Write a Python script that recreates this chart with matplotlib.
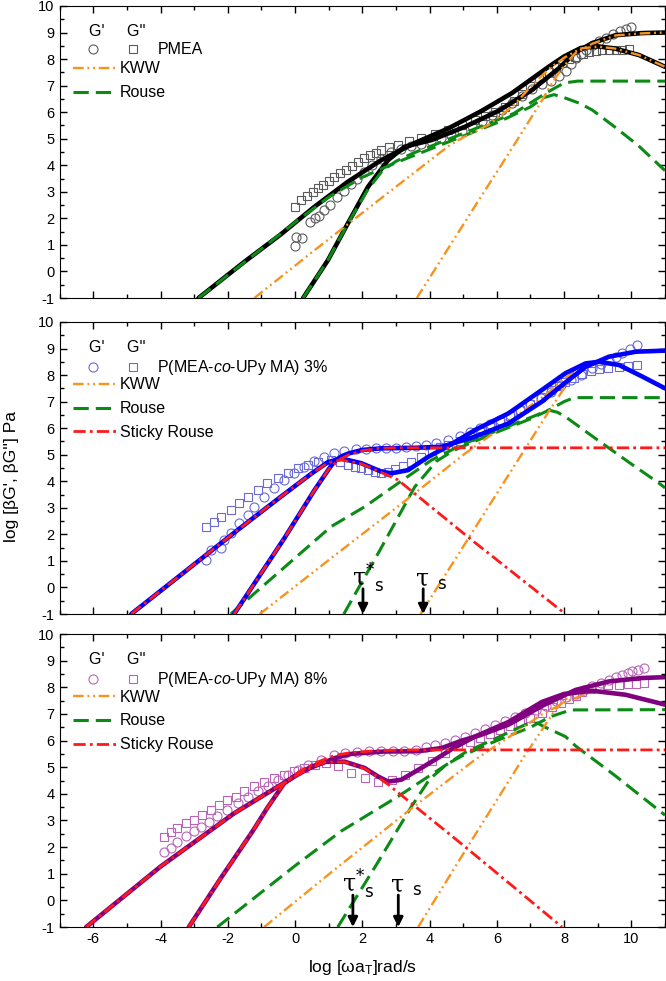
import matplotlib
matplotlib.use('Agg')
import matplotlib.pyplot as plt
from matplotlib.lines import Line2D
from matplotlib.legend_handler import HandlerTuple
from matplotlib.ticker import MultipleLocator

plt.rcParams['font.family'] = ['Liberation Sans', 'DejaVu Sans']
plt.rcParams['axes.unicode_minus'] = False
plt.rcParams['mathtext.fontset'] = 'custom'
plt.rcParams['mathtext.rm'] = 'Liberation Sans'
plt.rcParams['mathtext.it'] = 'Liberation Sans:italic'

# ---------------- panel 1 : PMEA ----------------
p1_gp_x = [0.00, 0.02, 0.22, 0.45, 0.58, 0.70, 0.87, 1.05, 1.25, 1.45, 1.65, 1.85, 2.05, 2.30, 2.55,
           2.85, 3.15, 3.45, 3.75, 4.05, 4.35, 4.65, 4.95, 5.25, 5.55, 5.85, 6.15, 6.45, 6.75, 7.05,
           7.35, 7.60, 7.85, 8.05, 8.20, 8.35, 8.50, 8.65, 8.85, 9.05, 9.25, 9.45, 9.65, 9.85, 10.00]
p1_gp_y = [0.95, 1.30, 1.25, 1.85, 2.00, 2.10, 2.30, 2.50, 2.80, 3.05, 3.30, 3.50, 3.75, 4.00, 4.25,
           4.50, 4.62, 4.72, 4.82, 4.92, 5.02, 5.15, 5.30, 5.48, 5.68, 5.88, 6.08, 6.35, 6.60, 6.88,
           7.05, 7.18, 7.35, 7.55, 7.80, 8.05, 8.20, 8.35, 8.53, 8.67, 8.80, 8.93, 9.05, 9.15, 9.22]
p1_gpp_x = [0.00, 0.18, 0.35, 0.53, 0.68, 0.83, 1.00, 1.17, 1.35, 1.52, 1.70, 1.87, 2.05, 2.22, 2.40,
            2.57, 2.80, 3.07, 3.40, 3.76, 4.15, 4.56, 4.95, 5.35, 5.65, 5.95, 6.25, 6.50, 6.75, 7.00,
            7.25, 7.54, 7.75, 7.94, 8.15, 8.33, 8.55, 8.74, 8.95, 9.13, 9.33, 9.53, 9.73, 9.93]
p1_gpp_y = [2.44, 2.69, 2.85, 3.00, 3.13, 3.26, 3.42, 3.57, 3.70, 3.82, 3.98, 4.13, 4.27, 4.39, 4.48,
            4.57, 4.67, 4.76, 4.90, 5.03, 5.18, 5.33, 5.50, 5.70, 5.85, 6.02, 6.20, 6.42, 6.68, 6.98,
            7.28, 7.52, 7.70, 7.85, 8.00, 8.09, 8.20, 8.28, 8.32, 8.34, 8.34, 8.34, 8.35, 8.37]
p1_fit_gp_x = [0.24, 0.98, 1.57, 2.17, 2.77, 3.26, 4.06, 5.05, 6.05, 7.04, 7.84, 8.33, 8.84, 9.53, 10.33, 11.0]
p1_fit_gp_y = [-1.0, 0.43, 1.81, 3.19, 4.20, 4.70, 4.95, 5.45, 6.05, 6.83, 7.65, 8.25, 8.60, 8.90, 8.98, 9.00]
p1_fit_gpp_x = [-2.87, -1.5, -0.42, 0.58, 1.57, 2.57, 3.56, 4.56, 5.55, 6.45, 7.54, 8.0, 8.5, 9.0, 9.5, 10.23, 11.0]
p1_fit_gpp_y = [-1.0, 0.37, 1.40, 2.44, 3.38, 4.20, 4.84, 5.39, 6.05, 6.72, 7.71, 8.10, 8.42, 8.48, 8.40, 8.15, 7.71]
p1_rouse_gp_x = [0.24, 0.98, 1.57, 2.17, 2.6, 3.0, 3.5, 4.5, 5.5, 6.5, 7.0, 7.5, 8.0, 8.4, 11.0]
p1_rouse_gp_y = [-1.0, 0.43, 1.81, 3.10, 3.80, 4.15, 4.45, 4.95, 5.45, 5.95, 6.35, 6.75, 7.10, 7.17, 7.17]
p1_rouse_gpp_x = [-2.87, -1.0, 0.0, 1.0, 2.0, 3.0, 4.0, 5.0, 6.0, 7.0, 7.4, 7.7, 8.0, 8.45, 8.84, 9.5, 10.2, 11.0]
p1_rouse_gpp_y = [-1.0, 0.85, 1.85, 2.80, 3.55, 4.10, 4.60, 5.10, 5.60, 6.20, 6.55, 6.66, 6.55, 6.34, 6.08, 5.45, 4.75, 3.80]
p1_kww_gp_x = [3.62, 4.36, 5.5, 6.45, 7.34, 7.64, 8.0, 8.33, 8.84, 9.53, 10.33, 11.0]
p1_kww_gp_y = [-1.0, 0.48, 2.76, 4.64, 6.44, 7.10, 7.75, 8.22, 8.58, 8.89, 8.97, 9.00]
p1_kww_gpp_x = [-1.21, 0.58, 2.5, 4.56, 5.0, 5.75, 6.5, 7.0, 7.54, 8.0, 8.5, 9.0, 9.5, 10.23, 11.0]
p1_kww_gpp_y = [-1.0, 0.80, 2.70, 4.72, 5.05, 5.52, 6.25, 6.95, 7.62, 8.05, 8.40, 8.47, 8.40, 8.15, 7.71]

# ---------------- panel 2 : 3 % ----------------
p2_gp_x = [-2.66, -2.51, -2.21, -2.12, -1.91, -1.66, -1.41, -1.21, -0.91, -0.62, -0.32, -0.02, 0.28, 0.55,
           0.85, 1.17, 1.47, 1.8, 2.1, 2.4, 2.7, 3.0, 3.3, 3.6, 3.9, 4.2, 4.56, 4.9, 5.2, 5.5, 5.8, 6.1,
           6.4, 6.7, 7.0, 7.3, 7.6, 7.9, 8.2, 8.5, 8.84, 9.1, 9.33, 9.55, 9.73, 9.95, 10.18]
p2_gp_y = [1.03, 1.41, 1.47, 1.79, 2.04, 2.42, 2.73, 3.04, 3.42, 3.73, 4.05, 4.30, 4.55, 4.75,
           4.92, 5.05, 5.15, 5.20, 5.22, 5.24, 5.25, 5.27, 5.30, 5.33, 5.38, 5.45, 5.55, 5.70, 5.85, 6.00, 6.15, 6.30,
           6.48, 6.68, 6.90, 7.12, 7.38, 7.62, 7.82, 8.02, 8.25, 8.42, 8.56, 8.68, 8.82, 8.98, 9.13]
p2_gpp_x = [-2.66, -2.41, -2.21, -1.91, -1.66, -1.41, -1.11, -0.82, -0.52, -0.22, 0.08, 0.38, 0.68, 1.07,
            1.35, 1.57, 1.77, 1.97, 2.17, 2.37, 2.57, 2.77, 2.96, 3.2, 3.46, 3.76, 4.06, 4.3, 4.56, 4.9,
            5.2, 5.5, 5.8, 6.1, 6.4, 6.7, 7.0, 7.3, 7.6, 7.85, 8.04, 8.3, 8.54, 8.8, 9.04, 9.3, 9.63, 9.9, 10.18]
p2_gpp_y = [2.29, 2.48, 2.67, 2.92, 3.17, 3.42, 3.67, 3.92, 4.11, 4.30, 4.49, 4.61, 4.74, 4.80,
            4.72, 4.61, 4.55, 4.49, 4.42, 4.36, 4.32, 4.33, 4.45, 4.58, 4.72, 4.92, 5.15, 5.28, 5.38, 5.52,
            5.68, 5.86, 6.04, 6.22, 6.45, 6.68, 6.92, 7.16, 7.42, 7.60, 7.72, 7.90, 8.05, 8.15, 8.22, 8.27, 8.32, 8.35, 8.38]
p2_fit_gp_x = [-1.81, -0.32, 0.58, 1.0, 1.17, 1.4, 1.6, 2.0, 2.57, 3.56, 4.36, 5.35, 6.35, 7.34, 8.13, 8.64, 9.33, 10.13, 11.0]
p2_fit_gp_y = [-1.0, 1.85, 3.67, 4.45, 4.75, 4.95, 5.05, 5.18, 5.24, 5.26, 5.30, 5.68, 6.18, 7.00, 7.81, 8.31, 8.69, 8.88, 8.92]
p2_fit_gpp_x = [-4.87, -1.71, -0.42, 0.50, 0.98, 1.37, 1.97, 2.57, 2.87, 3.36, 3.96, 4.56, 5.35, 6.35,
                7.34, 8.04, 8.64, 9.04, 9.63, 10.33, 11.0]
p2_fit_gpp_y = [-1.0, 2.16, 3.42, 4.30, 4.72, 4.86, 4.68, 4.36, 4.30, 4.42, 4.92, 5.33, 5.93, 6.56,
                7.44, 8.07, 8.44, 8.50, 8.38, 7.94, 7.50]
p2_sticky_gp_x = [-1.81, -0.32, 0.58, 1.0, 1.3, 1.6, 2.0, 2.5, 3.0, 11.0]
p2_sticky_gp_y = [-1.0, 1.85, 3.67, 4.45, 4.80, 5.00, 5.15, 5.24, 5.26, 5.26]
p2_sticky_gpp_x = [-4.87, -1.71, -0.42, 0.50, 0.98, 1.37, 1.97, 2.57, 3.06, 5.25, 8.04]
p2_sticky_gpp_y = [-1.0, 2.16, 3.42, 4.30, 4.70, 4.80, 4.66, 4.33, 4.05, 1.79, -1.0]
p2_rouse_gp_x = [1.45, 2.5, 3.56, 4.2, 4.7, 5.05, 6.0, 7.0, 7.5, 8.0, 8.3, 11.0]
p2_rouse_gp_y = [-1.0, 1.35, 3.79, 4.75, 5.15, 5.35, 5.85, 6.35, 6.65, 7.00, 7.15, 7.15]
p2_rouse_gpp_x = [-1.91, 1.07, 2.07, 3.06, 4.06, 5.05, 6.0, 7.0, 7.54, 7.8, 8.04, 9.0, 10.0, 10.83, 11.0]
p2_rouse_gpp_y = [-1.0, 2.29, 3.04, 3.92, 4.80, 5.43, 5.90, 6.40, 6.68, 6.60, 6.43, 5.55, 4.65, 3.92, 3.75]
p2_kww_gp_x = [3.73, 5.0, 6.0, 7.0, 7.54, 8.13, 8.64, 9.33, 10.13, 11.0]
p2_kww_gp_y = [-1.0, 1.54, 3.54, 5.54, 6.62, 7.75, 8.28, 8.67, 8.87, 8.92]
p2_kww_gpp_x = [-1.05, 1.07, 3.06, 5.06, 6.0, 7.0, 7.5, 8.04, 8.64, 9.04, 9.63, 10.33, 11.0]
p2_kww_gpp_y = [-1.0, 1.10, 3.05, 5.05, 5.90, 6.85, 7.30, 7.90, 8.35, 8.45, 8.36, 7.94, 7.50]

# ---------------- panel 3 : 8 % ----------------
p3_gp_x = [-3.90, -3.70, -3.50, -3.25, -3.00, -2.81, -2.56, -2.31, -2.01, -1.71, -1.41, -1.11, -0.81, -0.51,
           -0.22, 0.08, 0.38, 0.78, 1.17, 1.5, 1.85, 2.2, 2.55, 2.9, 3.25, 3.6, 3.9, 4.16, 4.45, 4.75,
           5.05, 5.35, 5.65, 5.95, 6.25, 6.55, 6.85, 7.15, 7.45, 7.75, 8.05, 8.34, 8.6, 8.84, 9.1, 9.33,
           9.55, 9.73, 9.9, 10.03, 10.2, 10.38]
p3_gp_y = [1.83, 1.97, 2.21, 2.40, 2.59, 2.77, 2.96, 3.15, 3.40, 3.65, 3.90, 4.09, 4.28, 4.53,
           4.71, 4.90, 5.09, 5.28, 5.45, 5.55, 5.58, 5.59, 5.60, 5.60, 5.61, 5.65, 5.75, 5.84, 5.92, 6.03,
           6.14, 6.28, 6.42, 6.58, 6.72, 6.88, 7.02, 7.15, 7.30, 7.48, 7.62, 7.75, 7.88, 8.03, 8.16, 8.28,
           8.38, 8.47, 8.54, 8.60, 8.66, 8.73]
p3_gpp_x = [-3.90, -3.70, -3.50, -3.25, -3.00, -2.76, -2.51, -2.26, -2.01, -1.76, -1.51, -1.21, -0.91, -0.62,
            -0.32, -0.02, 0.28, 0.58, 0.93, 1.27, 1.67, 2.07, 2.47, 2.87, 3.26, 3.66, 4.06, 4.46, 4.86, 5.2,
            5.5, 5.8, 6.1, 6.4, 6.7, 7.0, 7.34, 7.65, 7.9, 8.14, 8.34, 8.54, 8.8, 9.04, 9.3, 9.63, 9.9, 10.15, 10.38]
p3_gpp_y = [2.39, 2.55, 2.71, 2.90, 3.02, 3.21, 3.40, 3.59, 3.77, 3.90, 4.09, 4.28, 4.46, 4.59,
            4.71, 4.84, 4.96, 5.09, 5.15, 5.03, 4.80, 4.59, 4.46, 4.53, 4.72, 4.97, 5.22, 5.53, 5.78, 5.95,
            6.10, 6.25, 6.40, 6.55, 6.70, 6.86, 7.05, 7.25, 7.40, 7.55, 7.68, 7.82, 7.95, 8.02, 8.08, 8.10, 8.12, 8.14, 8.16]
p3_fit_gp_x = [-3.16, -2.2, -1.26, -0.81, -0.32, 0.2, 0.68, 1.2, 1.67, 2.66, 3.66, 4.36, 4.96, 5.5, 6.35, 7.34,
               8.34, 9.33, 10.33, 11.0]
p3_fit_gp_y = [-1.0, 0.85, 2.60, 3.50, 4.40, 4.85, 5.09, 5.35, 5.50, 5.59, 5.60, 5.72, 6.00, 6.20, 6.60, 7.30,
               7.90, 8.22, 8.35, 8.38]
p3_fit_gpp_x = [-6.21, -4.0, -1.81, -0.02, 0.5, 0.87, 1.47, 2.07, 2.47, 2.77, 3.16, 3.66, 4.16, 4.66, 5.35,
                6.35, 7.34, 8.0, 8.84, 9.83, 11.0]
p3_fit_gpp_y = [-1.0, 1.27, 3.27, 4.65, 5.02, 5.20, 5.21, 4.97, 4.65, 4.46, 4.53, 4.90, 5.28, 5.68, 6.15,
                6.70, 7.45, 7.75, 7.87, 7.72, 7.35]
p3_sticky_gp_x = [-3.16, -2.2, -1.26, -0.81, -0.32, 0.2, 0.68, 1.2, 1.67, 2.5, 3.5, 11.0]
p3_sticky_gp_y = [-1.0, 0.85, 2.60, 3.50, 4.40, 4.90, 5.20, 5.45, 5.55, 5.63, 5.65, 5.65]
p3_sticky_gpp_x = [-6.21, -4.0, -1.81, -0.02, 0.5, 0.87, 1.47, 2.07, 2.5, 2.77, 5.05, 7.94]
p3_sticky_gpp_y = [-1.0, 1.27, 3.27, 4.65, 5.00, 5.18, 5.20, 4.95, 4.60, 4.35, 2.02, -1.0]
p3_rouse_gp_x = [1.27, 2.4, 3.46, 4.0, 4.5, 5.0, 6.0, 7.0, 7.6, 8.2, 11.0]
p3_rouse_gp_y = [-1.0, 1.30, 3.52, 4.55, 5.10, 5.45, 6.00, 6.50, 6.90, 7.15, 7.16]
p3_rouse_gpp_x = [-2.31, 0.0, 1.37, 3.06, 5.05, 6.0, 6.85, 7.2, 7.44, 8.04, 8.34, 9.5, 10.93, 11.0]
p3_rouse_gpp_y = [-1.0, 1.30, 2.60, 3.90, 5.55, 6.10, 6.60, 6.66, 6.50, 6.15, 5.80, 4.70, 3.27, 3.20]
p3_kww_gp_x = [3.66, 5.05, 6.75, 7.74, 8.34, 9.33, 10.33, 11.0]
p3_kww_gp_y = [-1.0, 1.85, 5.28, 7.16, 7.90, 8.22, 8.35, 8.38]
p3_kww_gpp_x = [-0.92, 1.07, 3.46, 5.35, 6.5, 7.3, 8.04, 8.84, 9.83, 11.0]
p3_kww_gpp_y = [-1.0, 1.05, 3.45, 5.28, 6.25, 6.95, 7.45, 7.85, 7.72, 7.35]

names = ['PMEA', 'P(MEA-$\\it{co}$-UPy MA) 3%', 'P(MEA-$\\it{co}$-UPy MA) 8%']
tau_star = [None, 2.02, 1.72]
tau_s = [None, 3.81, 3.07]

fit_colors = ['black', '#0000ff', '#800080']
sym_colors = ['#5a5a5a', '#6a6ad8', '#b865b8']
c_kww = '#f7931e'
c_rouse = '#0b8a16'
c_sticky = '#ff1a1a'
ls_kww = (0, (4.5, 1.6, 0.8, 1.6, 0.8, 1.6))
ls_rouse = (0, (5, 2.3))
ls_sticky = (0, (4.4, 1.5, 1.0, 1.5))

panels = [
    dict(gp=(p1_gp_x, p1_gp_y), gpp=(p1_gpp_x, p1_gpp_y),
         fit=[(p1_fit_gp_x, p1_fit_gp_y), (p1_fit_gpp_x, p1_fit_gpp_y)],
         kww=[(p1_kww_gp_x, p1_kww_gp_y), (p1_kww_gpp_x, p1_kww_gpp_y)],
         rouse=[(p1_rouse_gp_x, p1_rouse_gp_y), (p1_rouse_gpp_x, p1_rouse_gpp_y)],
         sticky=None),
    dict(gp=(p2_gp_x, p2_gp_y), gpp=(p2_gpp_x, p2_gpp_y),
         fit=[(p2_fit_gp_x, p2_fit_gp_y), (p2_fit_gpp_x, p2_fit_gpp_y)],
         kww=[(p2_kww_gp_x, p2_kww_gp_y), (p2_kww_gpp_x, p2_kww_gpp_y)],
         rouse=[(p2_rouse_gp_x, p2_rouse_gp_y), (p2_rouse_gpp_x, p2_rouse_gpp_y)],
         sticky=[(p2_sticky_gp_x, p2_sticky_gp_y), (p2_sticky_gpp_x, p2_sticky_gpp_y)]),
    dict(gp=(p3_gp_x, p3_gp_y), gpp=(p3_gpp_x, p3_gpp_y),
         fit=[(p3_fit_gp_x, p3_fit_gp_y), (p3_fit_gpp_x, p3_fit_gpp_y)],
         kww=[(p3_kww_gp_x, p3_kww_gp_y), (p3_kww_gpp_x, p3_kww_gpp_y)],
         rouse=[(p3_rouse_gp_x, p3_rouse_gp_y), (p3_rouse_gpp_x, p3_rouse_gpp_y)],
         sticky=[(p3_sticky_gp_x, p3_sticky_gp_y), (p3_sticky_gpp_x, p3_sticky_gpp_y)]),
]

fig = plt.figure(figsize=(6.66, 9.81), dpi=100)
rects = [(0.0895, 0.6962, 0.9090, 0.2977),
         (0.0895, 0.3741, 0.9090, 0.2977),
         (0.0895, 0.0550, 0.9090, 0.2987)]

for i, p in enumerate(panels):
    ax = fig.add_axes(rects[i])
    # components lie over the fit in panel 1, under it in panels 2 and 3
    zc = 3 if i == 0 else 2
    ax.plot(*p['gp'], ls='none', marker='o', ms=6.5, mfc='none', mec=sym_colors[i], mew=0.8, zorder=1)
    ax.plot(*p['gpp'], ls='none', marker='s', ms=6, mfc='none', mec=sym_colors[i], mew=0.8, zorder=1)
    for xs, ys in p['fit']:
        ax.plot(xs, ys, color=fit_colors[i], lw=3.3, solid_capstyle='round', zorder=2.5)
    for xs, ys in p['rouse']:
        ax.plot(xs, ys, color=c_rouse, lw=2.2, ls=ls_rouse, zorder=zc)
    for xs, ys in p['kww']:
        ax.plot(xs, ys, color=c_kww, lw=1.7, ls=ls_kww, zorder=zc)
    if p['sticky']:
        for xs, ys in p['sticky']:
            ax.plot(xs, ys, color=c_sticky, lw=2.0, ls=ls_sticky, zorder=4)

    ax.set_xlim(-7, 11)
    ax.set_ylim(-1, 10)
    ax.set_xticks(range(-6, 11, 2))
    ax.xaxis.set_minor_locator(MultipleLocator(1))
    ax.set_yticks(range(-1, 11))
    ax.yaxis.set_minor_locator(MultipleLocator(0.5))
    ax.tick_params(which='both', direction='in', top=True, right=True, labelsize=10.5, width=1)
    ax.tick_params(which='major', length=5)
    ax.tick_params(which='minor', length=3)
    if i < 2:
        ax.tick_params(labelbottom=False)

    # legend: symbols
    h_o = Line2D([], [], ls='none', marker='o', ms=6.5, mfc='none', mec=sym_colors[i], mew=0.8)
    h_s = Line2D([], [], ls='none', marker='s', ms=6, mfc='none', mec=sym_colors[i], mew=0.8)
    leg1 = ax.legend([(h_o, h_s)], [names[i]], handler_map={tuple: HandlerTuple(ndivide=None, pad=2.0)},
                     handlelength=3.0, handletextpad=1.3, labelspacing=0.19, frameon=False, loc='upper left',
                     bbox_to_anchor=(0.048, 0.938), borderpad=0, borderaxespad=0, fontsize=11.5,
                     title="G'     G''", title_fontsize=11.5, alignment='left')
    ax.add_artist(leg1)
    # legend: model lines
    hl = [Line2D([], [], color=c_kww, lw=1.7, ls=ls_kww),
          Line2D([], [], color=c_rouse, lw=2.2, ls=ls_rouse)]
    lab = ['KWW', 'Rouse']
    if p['sticky']:
        hl.append(Line2D([], [], color=c_sticky, lw=2.0, ls=ls_sticky))
        lab.append('Sticky Rouse')
    ax.legend(hl, lab, handlelength=2.75, handletextpad=0.2, labelspacing=0.55, frameon=False,
              loc='upper left', bbox_to_anchor=(0.022, 0.81), borderpad=0, borderaxespad=0, fontsize=11.5)

    if tau_star[i] is not None:
        for tx, lbl, dx in [(tau_star[i], r'$\mathrm{\tau}^{*}_{\;\;\mathsf{s}}$', 0.32),
                            (tau_s[i], r'$\mathrm{\tau}_{\;\;\mathsf{s}}$', 0.24)]:
            ty = 0.05 if i == 1 else 0.3
            ax.annotate('', xy=(tx, -1), xytext=(tx, ty - 0.1),
                        arrowprops=dict(arrowstyle='-|>', color='black', lw=2, mutation_scale=14,
                                        shrinkA=0, shrinkB=0), zorder=6)
            ax.text(tx - dx, ty, lbl, fontsize=17, math_fontfamily='dejavuserif',
                    ha='left', va='baseline', zorder=6)

    if i == 2:
        ax.set_xlabel('log [ωa$_\\mathrm{T}$]rad/s', fontsize=12.5, labelpad=9)

fig.text(0.018, 0.514, "log [βG', βG''] Pa", rotation=90, va='center', ha='center', fontsize=12.5)

fig.savefig('out.png', dpi=100)
